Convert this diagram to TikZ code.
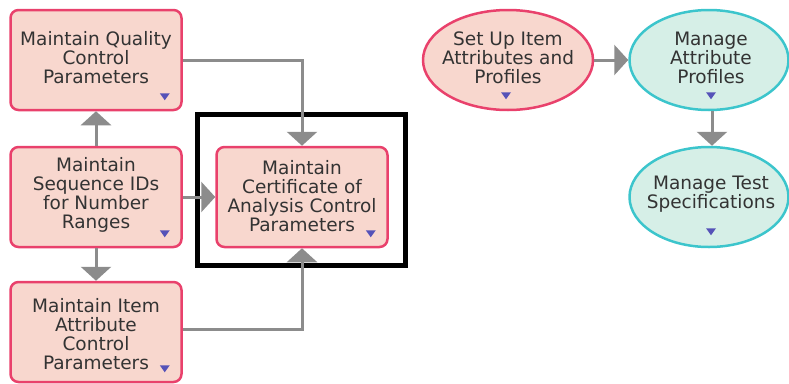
\documentclass[tikz,border=0pt]{standalone}
\usepackage{fontspec}
\setmainfont{DejaVu Sans}
\usetikzlibrary{shapes.geometric,arrows.meta}

\definecolor{boxfill}{HTML}{F8D7CE}
\definecolor{boxline}{HTML}{E9416C}
\definecolor{ovalfill}{HTML}{D6EFE7}
\definecolor{ovalline}{HTML}{3CC5CC}
\definecolor{flowgray}{HTML}{8C8C8C}
\definecolor{markblue}{HTML}{5552B8}
\definecolor{labelgray}{HTML}{333333}

% small drop-down triangle: #1 = offset, #2 = anchor it is placed from
\newcommand\dropmark[2]{\fill[markblue] ([shift={#1}]#2) ++(-5,-3) -- ++(10,0) -- ++(-5,7) -- cycle;}

\tikzset{
  every node/.style={font=\fontsize{18.5pt}{19pt}\selectfont, text=labelgray, align=center},
  taskbox/.style={rectangle, rounded corners=8pt, draw=boxline, fill=boxfill,
    line width=2.5pt, minimum width=171pt, minimum height=100pt, inner sep=0pt},
  taskoval/.style={ellipse, draw=boxline, fill=boxfill, line width=2.5pt,
    minimum width=170pt, minimum height=100pt, inner sep=0pt},
  tealoval/.style={taskoval, draw=ovalline, fill=ovalfill, minimum width=159pt},
  flow/.style={draw=flowgray, line width=3pt,
    -{Triangle[width=30pt,length=14pt]}},
  highlight/.style={draw=black, line width=5pt}
}

\begin{document}
\begin{tikzpicture}[x=1pt, y=-1pt]
  \useasboundingbox (0,0) rectangle (789,383);

  % task boxes
  \node[taskbox] (q)   at (96,60)  {};
  \node[taskbox] (s)   at (96,197) {};
  \node[taskbox] (ia)  at (96,332) {};
  \node[taskbox] (coa) at (302,197) {};

  % task labels
  \node (qt)   at (96,58)   {Maintain Quality\\Control\\Parameters};
  \node (st)   at (96,195)  {Maintain\\Sequence IDs\\for Number\\Ranges};
  \node (iat)  at (96,334)  {Maintain Item\\Attribute\\Control\\Parameters};
  \node (coat) at (302,196) {Maintain\\Certificate of\\Analysis Control\\Parameters};

  % highlight frame around the certificate task
  \draw[highlight] (197.5,114.5) rectangle (405.5,265.5);

  % process ovals
  \node[taskoval] (su) at (508,60) {};
  \node[tealoval] (ma) at (709,60) {};
  \node[tealoval] (ts) at (709,197) {};
  \node (sut) at (508,58) {Set Up Item\\Attributes and\\Profiles};
  \node (mat) at (711,58) {Manage\\Attribute\\Profiles};
  \node (tst) at (711,194) {Manage Test\\Specifications};

  % drop-down markers
  \dropmark{(-18,-15)}{q.south east}
  \dropmark{(-18,-15)}{s.south east}
  \dropmark{(-18,-15)}{ia.south east}
  \dropmark{(-18,-15)}{coa.south east}
  \dropmark{(-2,-16)}{su.south}
  \dropmark{(2,-16)}{ma.south}
  \dropmark{(2,-17)}{ts.south}

  % connectors
  \draw[flow] (s.north) -- (q.south);
  \draw[flow] (s.south) -- (ia.north);
  \draw[flow] (s.east) -- (coa.west);
  \draw[flow] (q.east) -| (coa.north);
  \draw[flow] ([yshift=3pt]ia.east) -| (coa.south);
  \draw[flow] (su.east) -- (ma.west);
  \draw[flow] ([xshift=3pt]ma.south) -- ([xshift=3pt]ts.north);
\end{tikzpicture}
\end{document}
